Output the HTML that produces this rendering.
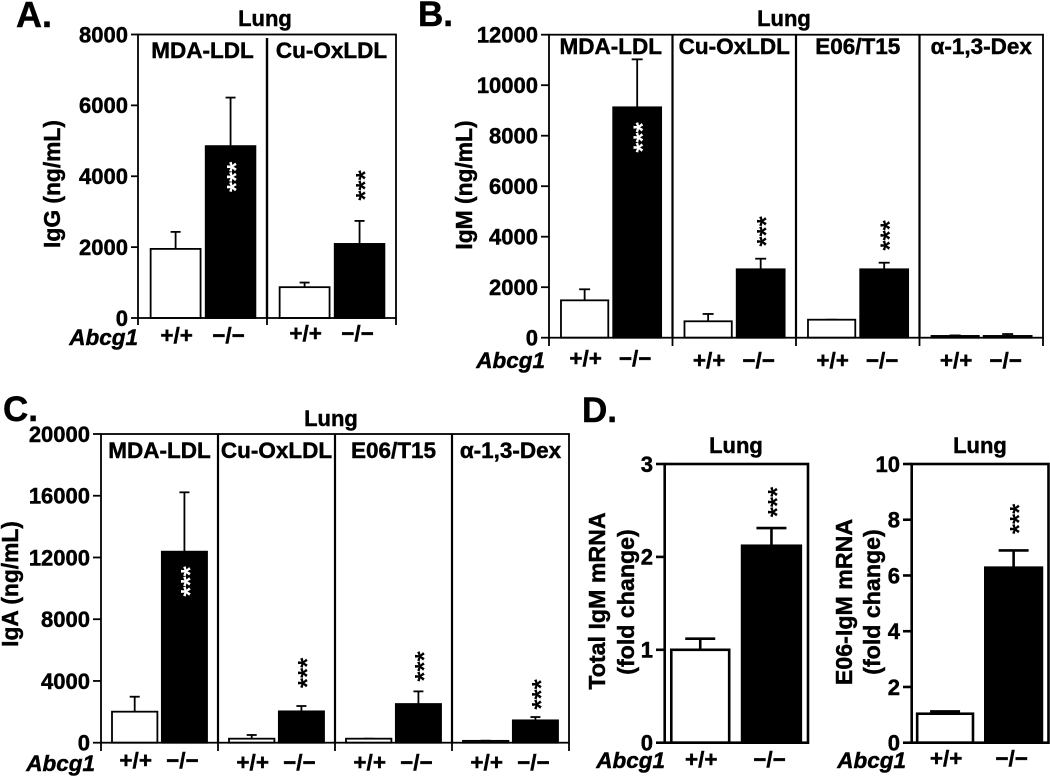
<!DOCTYPE html>
<html lang="en">
<head>
<meta charset="utf-8">
<title>Lung immunoglobulin levels in Abcg1 knockout mice</title>
<style>
html,body{margin:0;padding:0;background:#fff;}
svg{display:block;}
text{font-family:"Liberation Sans",Arial,sans-serif;font-weight:bold;fill:#000;stroke:#000;stroke-width:0.45px;}
</style>
</head>
<body>
<svg id="figure" width="1050" height="777" viewBox="0 0 1050 777" xmlns="http://www.w3.org/2000/svg">
<rect x="0" y="0" width="1050" height="777" fill="#fff"/>
<text x="16" y="27" font-size="36">A.</text>
<text x="418" y="26" font-size="35">B.</text>
<text x="3" y="421" font-size="35">C.</text>
<text x="582" y="422" font-size="35">D.</text>
</svg>
<script>
// ---- Data ----
const genotypeLabels = ["+/+", "\u2212/\u2212"];

const igGGroups = ["MDA-LDL", "Cu-OxLDL"];
const igGTicks = [0, 2000, 4000, 6000, 8000];
const igGControl = [1950, 870];
const igGControlErr = [480, 130];
const igGKnockout = [4850, 2090];
const igGKnockoutErr = [1370, 650];
const igGStarLevels = [3979, 3739];

const igMGroups = ["MDA-LDL", "Cu-OxLDL", "E06/T15", "\u03b1-1,3-Dex"];
const igMTicks = [0, 2000, 4000, 6000, 8000, 10000, 12000];
const igMControl = [1480, 650, 713, 70];
const igMControlErr = [437, 290, 0, 20];
const igMKnockout = [9124, 2709, 2709, 70];
const igMKnockoutErr = [1900, 420, 261, 75];
const igMStarLevels = [7929, 4206, 4048, null];

const igAGroups = ["MDA-LDL", "Cu-OxLDL", "E06/T15", "\u03b1-1,3-Dex"];
const igATicks = [0, 4000, 8000, 12000, 16000, 20000];
const igAControl = [2010, 260, 260, 120];
const igAControlErr = [970, 240, 0, 10];
const igAKnockout = [12376, 2030, 2505, 1447];
const igAKnockoutErr = [3845, 346, 820, 216];
const igAStarLevels = [10444, 4516, 4937, 3123];

const totalGroups = [""];
const totalTicks = [0, 1, 2, 3];
const totalControl = [1.0];
const totalControlErr = [0.12];
const totalKnockout = [2.12];
const totalKnockoutErr = [0.19];
const totalStarLevels = [2.59];

const e06Groups = [""];
const e06Ticks = [0, 2, 4, 6, 8, 10];
const e06Control = [1.04];
const e06ControlErr = [0.08];
const e06Knockout = [6.28];
const e06KnockoutErr = [0.62];
const e06StarLevels = [8.03];

// ---- Layout and series references ----
const charts = [
  { id: "igg", groups: igGGroups, ticks: igGTicks, ctl: igGControl, ctlErr: igGControlErr, ko: igGKnockout, koErr: igGKnockoutErr, stars: igGStarLevels,
    left: 138, right: 396, top: 34.5, bottom: 318, tickBottom: 325, sw: 1.8, divSw: 2.4, divTop: 38,
    ctlFrac: [0.098, 0.485], koFrac: [0.525, 0.91], cap: 10, starInside: [true, false],
    lungX: 265, lungY: 26, groupLabelY: 58, tickRight: 128, tickLeft: 131,
    titles: [{ t: "IgG (ng/mL)", x: 60, y: 184 }],
    abcgEnd: 138, abcgY: 345, genoY: [343, 341] },
  { id: "igm", groups: igMGroups, ticks: igMTicks, ctl: igMControl, ctlErr: igMControlErr, ko: igMKnockout, koErr: igMKnockoutErr, stars: igMStarLevels,
    left: 549, right: 1043, top: 34.7, bottom: 337.7, tickBottom: 346, sw: 1.8, divSw: 2.2, divTop: 34.7,
    ctlFrac: [0.097, 0.48], koFrac: [0.52, 0.908], cap: 11, starInside: [true, false, false],
    lungX: 784, lungY: 26, groupLabelY: 54, tickRight: 538, tickLeft: 541,
    titles: [{ t: "IgM (ng/mL)", x: 472, y: 185 }],
    abcgEnd: 545, abcgY: 368, genoY: [366, 368, 368, 368] },
  { id: "iga", groups: igAGroups, ticks: igATicks, ctl: igAControl, ctlErr: igAControlErr, ko: igAKnockout, koErr: igAKnockoutErr, stars: igAStarLevels,
    left: 101, right: 569, top: 434, bottom: 742.7, tickBottom: 751, sw: 1.8, divSw: 2.2, divTop: 434,
    ctlFrac: [0.094, 0.482], koFrac: [0.52, 0.906], cap: 10, starInside: [true, false, false, false],
    lungX: 331, lungY: 426, groupLabelY: 458, tickRight: 90, tickLeft: 93,
    titles: [{ t: "IgA (ng/mL)", x: 18, y: 584 }],
    abcgEnd: 95, abcgY: 771, genoY: [768, 770, 770, 770] },
  { id: "total-igm", groups: totalGroups, ticks: totalTicks, ctl: totalControl, ctlErr: totalControlErr, ko: totalKnockout, koErr: totalKnockoutErr, stars: totalStarLevels,
    left: 664.7, right: 808, top: 464, bottom: 742.7, tickBottom: 742.7, sw: 2.6, divSw: 2, divTop: 464,
    ctlFrac: [0.046, 0.45], koFrac: [0.54, 0.95], cap: 30, starInside: [false],
    lungX: 736, lungY: 453, groupLabelY: 0, tickRight: 653, tickLeft: 656,
    titles: [{ t: "Total IgM mRNA", x: 605, y: 601, fs: 23.2 }, { t: "(fold change)", x: 634, y: 602, fs: 23.2 }],
    abcgEnd: 665, abcgY: 768, genoY: [767] },
  { id: "e06-igm", groups: e06Groups, ticks: e06Ticks, ctl: e06Control, ctlErr: e06ControlErr, ko: e06Knockout, koErr: e06KnockoutErr, stars: e06StarLevels,
    left: 911.7, right: 1048.5, top: 464, bottom: 742.7, tickBottom: 742.7, sw: 2.6, divSw: 2, divTop: 464,
    ctlFrac: [0.04, 0.448], koFrac: [0.538, 0.952], cap: 30, starInside: [false],
    lungX: 980, lungY: 453, groupLabelY: 0, tickRight: 900, tickLeft: 903,
    titles: [{ t: "E06-IgM mRNA", x: 852, y: 602, fs: 23.2 }, { t: "(fold change)", x: 880, y: 602, fs: 23.2 }],
    abcgEnd: 906, abcgY: 768, genoY: [766] }
];

// ---- Drawing ----
const svg = document.getElementById("figure");
const NS = "http://www.w3.org/2000/svg";

function mk(tag, attrs, parent) {
  const e = document.createElementNS(NS, tag);
  for (const k in attrs) e.setAttribute(k, attrs[k]);
  parent.appendChild(e);
  return e;
}

function txt(str, x, y, size, anchor, parent) {
  const e = mk("text", { x: x, y: y, "font-size": size, "text-anchor": anchor }, parent);
  e.textContent = str;
  return e;
}

function drawChart(c) {
  const g = mk("g", {}, svg);
  
  

  const maxTick = c.ticks[c.ticks.length - 1];
  const yScale = v => c.bottom - (v / maxTick) * (c.bottom - c.top);
  const groupW = (c.right - c.left) / c.groups.length;
  const xScale = (i, frac) => c.left + (i + frac) * groupW;

  // bars & error bars (drawn first, frame on top)
  c.groups.forEach((name, i) => {
    const series = [
      { key: "control", vals: c.ctl, errs: c.ctlErr, frac: c.ctlFrac, fill: "#fff" },
      { key: "knockout", vals: c.ko, errs: c.koErr, frac: c.koFrac, fill: "#000" }
    ];
    series.forEach(s => {
      const x0 = xScale(i, s.frac[0]);
      const x1 = xScale(i, s.frac[1]);
      const xc = (x0 + x1) / 2;
      const v = s.vals[i];
      const yTop = yScale(v);
      const yErr = yScale(v + s.errs[i]);

      const stem = mk("line", { x1: xc, x2: xc, y1: yTop, y2: yErr, stroke: "#000", "stroke-width": c.sw }, g);
      
      

      const cap = mk("line", { x1: xc - c.cap / 2, x2: xc + c.cap / 2, y1: yErr, y2: yErr, stroke: "#000", "stroke-width": c.sw }, g);
      
      

      const bar = mk("rect", { x: x0, y: yTop, width: x1 - x0, height: c.bottom - yTop, fill: s.fill, stroke: "#000", "stroke-width": c.sw }, g);
      
      
    });

    // significance stars
    if (c.stars[i] !== null && c.stars[i] !== undefined) {
      const sx = (xScale(i, c.koFrac[0]) + xScale(i, c.koFrac[1])) / 2;
      const sy = yScale(c.stars[i]);
      const star = mk("text", { x: 0, y: 14.5, "font-size": 26, "text-anchor": "middle", transform: "translate(" + sx + "," + sy + ") rotate(-90)" }, g);
      star.textContent = "***";
      
      
      star.style.fill = c.starInside[i] ? "#fff" : "#000";
      star.style.stroke = "none";
    }

    // group header
    if (name) {
      const head = txt(name, xScale(i, 0.5), c.groupLabelY, 22.5, "middle", g);
      
      
    }

    // genotype labels
    genotypeLabels.forEach((lab, j) => {
      const fr = j === 0 ? c.ctlFrac : c.koFrac;
      const gx = (xScale(i, fr[0]) + xScale(i, fr[1])) / 2 + (j === 0 ? 1 : -2);
      const gt = txt(lab, gx, c.genoY[i], 22.5, "middle", g);
      
      
    });

    // divider and bottom tick
    if (i > 0) {
      const div = mk("line", { x1: xScale(i, 0), x2: xScale(i, 0), y1: c.divTop, y2: c.bottom, stroke: "#000", "stroke-width": c.divSw }, g);
      
      
    }
  });

  if (c.tickBottom > c.bottom) {
    for (let i = 0; i <= c.groups.length; i++) {
      const t = mk("line", { x1: xScale(i, 0), x2: xScale(i, 0), y1: c.bottom, y2: c.tickBottom, stroke: "#000", "stroke-width": c.sw }, g);
      
      
    }
  }

  // frame
  const frame = mk("rect", { x: c.left, y: c.top, width: c.right - c.left, height: c.bottom - c.top, fill: "none", stroke: "#000", "stroke-width": c.sw }, g);
  
  

  // y ticks
  c.ticks.forEach(v => {
    const y = yScale(v);
    const tk = mk("line", { x1: c.tickLeft, x2: c.left, y1: y, y2: y, stroke: "#000", "stroke-width": c.sw }, g);
    
    

    const tl = txt(String(v), c.tickRight, y + 7.8, 22, "end", g);
    
    
  });

  // y titles
  c.titles.forEach((tt, k) => {
    const yt = mk("text", { x: 0, y: 0, "font-size": tt.fs || 22.8, "text-anchor": "middle", transform: "translate(" + tt.x + "," + tt.y + ") rotate(-90)" }, g);
    yt.textContent = tt.t;
    
    
  });

  // Lung title
  const lung = txt("Lung", c.lungX, c.lungY, 22, "middle", g);
  
  

  // Abcg1 label
  const ab = txt("Abcg1", c.abcgEnd, c.abcgY, 22.5, "end", g);
  
  
  ab.style.fontStyle = "italic";
}

charts.forEach(drawChart);
</script>
</body>
</html>
